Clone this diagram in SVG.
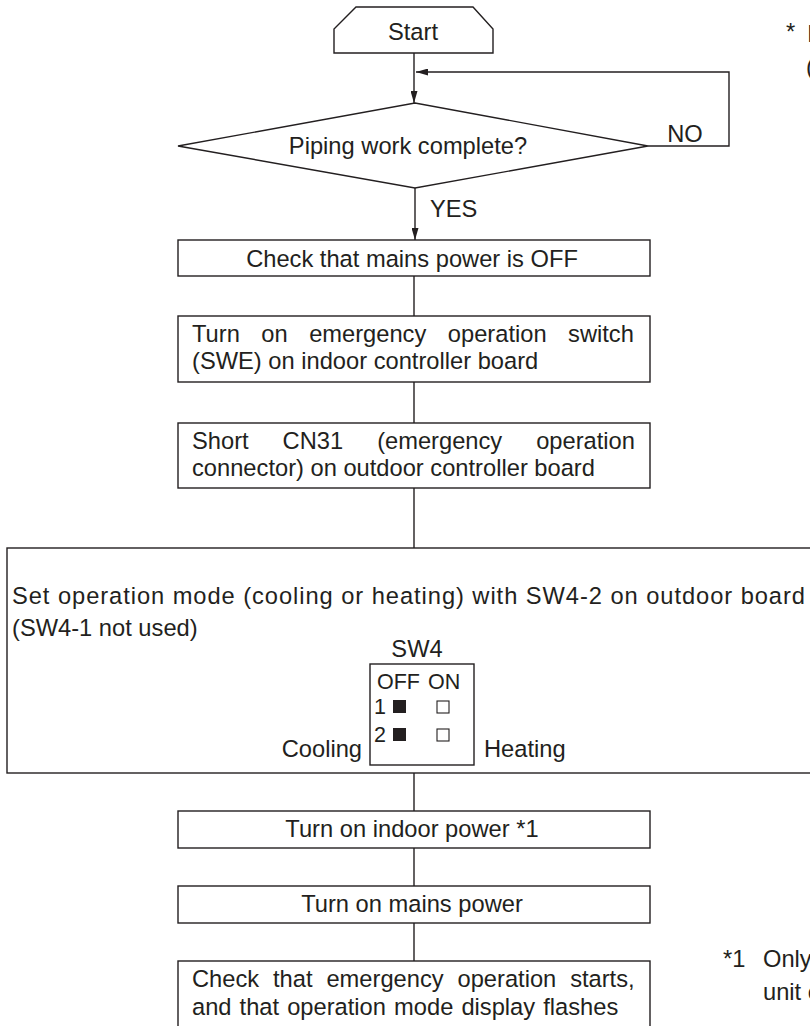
<svg xmlns="http://www.w3.org/2000/svg" width="810" height="1026" viewBox="0 0 810 1026">
<style>
text{font-family:"Liberation Sans",Arial,Helvetica,sans-serif;font-size:23.7px;fill:#231f20}
.c{text-anchor:middle}
.m{font-size:21.5px}
.s{fill:#fff;stroke:#231f20;stroke-width:1.4}
.l{fill:none;stroke:#231f20;stroke-width:1.4}
.k{fill:#231f20}
.w{fill:#fff;stroke:#231f20;stroke-width:1.1}
</style>
<defs>
<marker id="ah" markerWidth="12" markerHeight="7" refX="12" refY="3.5" orient="auto" markerUnits="userSpaceOnUse">
<path d="M0,0 L12,3.5 L0,7 Z" fill="#231f20"/>
</marker>
</defs>
<rect width="810" height="1026" fill="#fff"/>
<g id="connectors">
<line class="l" x1="414" y1="53" x2="414" y2="103" marker-end="url(#ah)"/>
<polyline class="l" points="648,146 729,146 729,72 416,72" marker-end="url(#ah)"/>
<line class="l" x1="415" y1="188" x2="415" y2="240" marker-end="url(#ah)"/>
<line class="l" x1="414" y1="276" x2="414" y2="316"/>
<line class="l" x1="414" y1="382" x2="414" y2="423"/>
<line class="l" x1="414" y1="488" x2="414" y2="548"/>
<line class="l" x1="414" y1="773" x2="414" y2="811"/>
<line class="l" x1="414" y1="848" x2="414" y2="886"/>
<line class="l" x1="414" y1="923" x2="414" y2="961"/>
<text x="685" y="142" class="c">NO</text>
<text x="430" y="217">YES</text>
</g>
<g id="start">
<path class="s" d="M356,7 L473,7 L493,29 L493,53 L334,53 L334,29 Z"/>
<text x="413" y="40" class="c">Start</text>
</g>
<g id="decision">
<polygon class="s" points="178,146 415,103 648,146 415,188"/>
<text x="408" y="154" class="c">Piping work complete?</text>
</g>
<g id="step1">
<rect class="s" x="178" y="240" width="472" height="36"/>
<text x="412" y="267" class="c">Check that mains power is OFF</text>
</g>
<g id="step2">
<rect class="s" x="178" y="316" width="472" height="66"/>
<text x="192" y="342" word-spacing="14.9">Turn on emergency operation switch</text>
<text x="192" y="369">(SWE) on indoor controller board</text>
</g>
<g id="step3">
<rect class="s" x="178" y="423" width="472" height="65"/>
<text x="192" y="449" word-spacing="27.4">Short CN31 (emergency operation</text>
<text x="192" y="476">connector) on outdoor controller board</text>
</g>
<g id="step4">
<rect class="s" x="7" y="548" width="812" height="225"/>
<text x="12" y="604" textLength="793" lengthAdjust="spacing">Set operation mode (cooling or heating) with SW4-2 on outdoor board</text>
<text x="12" y="636">(SW4-1 not used)</text>
<text x="417" y="657" class="c">SW4</text>
<rect class="s" x="370" y="664" width="104" height="101"/>
<text class="m" x="377" y="689">OFF</text>
<text class="m" x="428" y="689">ON</text>
<text class="m" x="374" y="714">1</text>
<rect class="k" x="393" y="700" width="13" height="13"/>
<rect class="w" x="437" y="701" width="12" height="12"/>
<text class="m" x="374" y="742">2</text>
<rect class="k" x="393" y="728" width="13" height="13"/>
<rect class="w" x="437" y="729" width="12" height="12"/>
<text x="362" y="757" style="text-anchor:end">Cooling</text>
<text x="484" y="757">Heating</text>
</g>
<g id="step5">
<rect class="s" x="178" y="811" width="472" height="37"/>
<text x="412" y="837" class="c">Turn on indoor power *1</text>
</g>
<g id="step6">
<rect class="s" x="178" y="886" width="472" height="37"/>
<text x="412" y="912" class="c">Turn on mains power</text>
</g>
<g id="step7">
<rect class="s" x="178" y="961" width="472" height="80"/>
<text x="192" y="987" word-spacing="7.3">Check that emergency operation starts,</text>
<text x="192" y="1015" word-spacing="1.5">and that operation mode display flashes</text>
</g>
<g id="notes">
<text x="786" y="40">*</text>
<text x="807" y="42">I</text>
<text x="806" y="75">(</text>
<text x="723" y="967">*1</text>
<text x="763" y="967">Only</text>
<text x="763" y="1000">unit c</text>
</g>
</svg>
